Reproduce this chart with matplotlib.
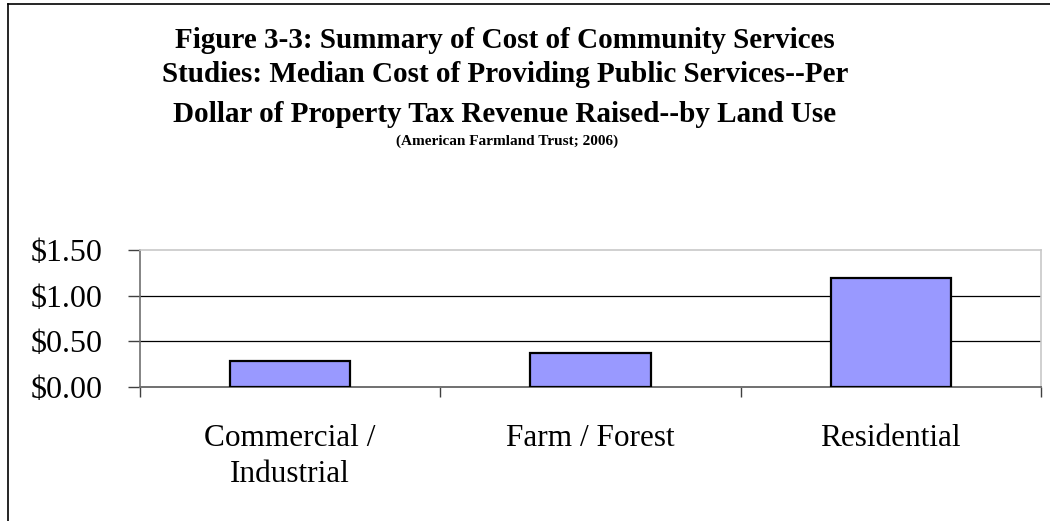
import matplotlib.pyplot as plt
from matplotlib.lines import Line2D

categories = ["Commercial /\nIndustrial", "Farm / Forest", "Residential"]
costs = [0.29, 0.37, 1.19]
yticks = [0.0, 0.5, 1.0, 1.5]
ytick_labels = ["$0.00", "$0.50", "$1.00", "$1.50"]

title_lines = ["Figure 3-3: Summary of Cost of Community Services",
               "Studies: Median Cost of Providing Public Services--Per",
               "Dollar of Property Tax Revenue Raised--by Land Use"]
subtitle = "(American Farmland Trust; 2006)"

plt.rcParams['font.family'] = ['Liberation Serif', 'DejaVu Serif']

fig = plt.figure(figsize=(10.5, 5.21), dpi=100)
ax = fig.add_axes([140/1050, 1-387/521, 901/1050, 137/521])

x = range(len(categories))
ax.bar(x, costs, width=0.4, color='#9999FF', edgecolor='black', linewidth=1.6, zorder=3)

ax.set_xlim(-0.5, 2.5)
ax.set_ylim(0, 1.5)
ax.set_yticks(yticks)
ax.set_yticklabels(ytick_labels, fontsize=23)
ax.set_xticks([0, 1, 2])
ax.set_xticklabels(categories, fontsize=22.5, linespacing=1.3)
ax.set_xticks([-0.5, 0.5, 1.5, 2.5], minor=True)
ax.tick_params(axis='x', which='major', length=0, pad=27)
ax.tick_params(axis='x', which='minor', length=7, width=1, color='#404040', direction='out')
ax.tick_params(axis='y', length=9, width=1, color='#404040', direction='out', pad=18)

for v in [0.5, 1.0]:
    ax.axhline(v, color='black', linewidth=0.9, zorder=1)

ax.spines['top'].set_color('#c8c8c8')
ax.spines['right'].set_color('#c8c8c8')
ax.spines['top'].set_linewidth(1.2)
ax.spines['right'].set_linewidth(1.2)
ax.spines['left'].set_color('#707070')
ax.spines['bottom'].set_color('#707070')
ax.spines['left'].set_linewidth(1.2)
ax.spines['bottom'].set_linewidth(1.4)

# title block
title_y = [40, 74, 115]
for line, yy in zip(title_lines, title_y):
    fig.text(505/1050, 1-yy/521, line, ha='center', va='center',
             fontsize=21, fontweight='bold')
fig.text(507/1050, 1-141/521, subtitle, ha='center', va='center',
         fontsize=11, fontweight='bold')

# outer frame (left and top only visible)
fig.add_artist(Line2D([8/1050, 8/1050], [0, 1-4/521], transform=fig.transFigure,
                      color='black', linewidth=1.2))
fig.add_artist(Line2D([8/1050, 1], [1-4/521, 1-4/521], transform=fig.transFigure,
                      color='black', linewidth=1.2))

fig.savefig('out.png', dpi=100)
